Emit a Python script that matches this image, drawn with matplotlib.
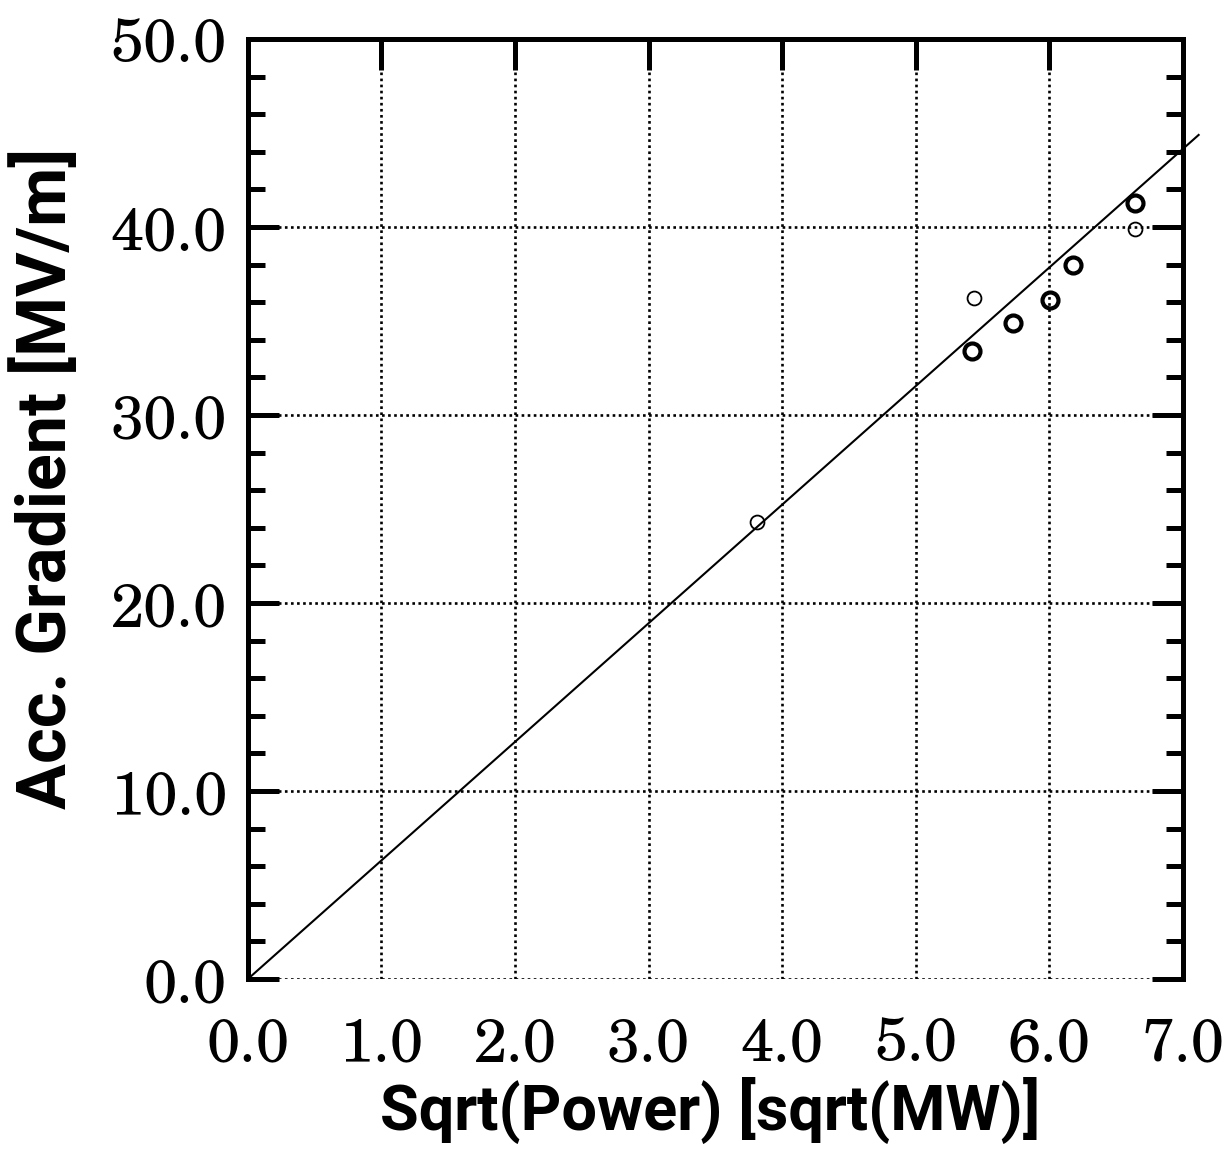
import matplotlib
matplotlib.use("Agg")
import matplotlib.pyplot as plt
from matplotlib import font_manager
from matplotlib.ticker import MultipleLocator, FormatStrFormatter

# measured points: thin open circles and bold open circles
thin_x = [3.81, 5.44, 6.64]
thin_y = [24.3, 36.2, 39.9]
bold_x = [5.42, 5.73, 6.01, 6.18, 6.64]
bold_y = [33.4, 34.9, 36.1, 38.0, 41.3]

# straight fit line end points
fit_x = [0.0, 7.12]
fit_y = [0.0, 44.9]

x_ticks = [0, 1, 2, 3, 4, 5, 6, 7]
y_ticks = [0, 10, 20, 30, 40, 50]

fig = plt.figure(figsize=(12.25, 11.49), dpi=100)
ax = fig.add_axes([0.2024, 0.148, 0.763, 0.818])

ax.plot(fit_x, fit_y, color="black", lw=1.5, clip_on=False, zorder=3)
ax.plot(thin_x, thin_y, "o", ms=10, mfc="none", mec="black", mew=1.3, zorder=4)
ax.plot(bold_x, bold_y, "o", ms=11.5, mfc="none", mec="black", mew=3.0, zorder=4)

ax.set_xlim(0, 7)
ax.set_ylim(0, 50)
ax.set_xticks(x_ticks)
ax.set_yticks(y_ticks)
ax.yaxis.set_minor_locator(MultipleLocator(2))
ax.xaxis.set_major_formatter(FormatStrFormatter("%.1f"))
ax.yaxis.set_major_formatter(FormatStrFormatter("%.1f"))

# dotted grid, bottom edge is only a dotted grid line
ax.grid(True, which="major", color="black", linestyle=(0, (1, 1.3)), lw=1.9)
ax.set_axisbelow(True)
for side in ["left", "right", "top"]:
    ax.spines[side].set_linewidth(3.6)
ax.spines["bottom"].set_visible(False)

ax.tick_params(axis="x", which="major", bottom=False, top=True, labelbottom=True,
               direction="in", length=22, width=3.6, pad=27)
ax.tick_params(axis="y", which="major", left=True, right=True,
               direction="in", length=22, width=3.6, pad=15)
ax.tick_params(axis="y", which="minor", left=True, right=True,
               direction="in", length=12, width=3.6)

names = {f.name for f in font_manager.fontManager.ttflist}

# Century Schoolbook look-alike for the numbers if one is installed
tick_family = "Liberation Serif"
for cand in ["TeX Gyre Schola", "C059", "Century Schoolbook L", "New Century Schoolbook"]:
    if cand in names:
        tick_family = cand
        break
for lab in ax.get_xticklabels() + ax.get_yticklabels():
    lab.set_fontfamily([tick_family, "DejaVu Serif"])
    lab.set_fontsize(43)

label_family = "Roboto" if "Roboto" in names else "DejaVu Sans"

xl = fig.text(710 / 1225, 1 - 1110 / 1149, "Sqrt(Power) [sqrt(MW)]", ha="center", va="center",
              fontweight="bold", family=label_family, fontsize=40)
yl = fig.text(46 / 1225, 1 - 478 / 1149, "Acc. Gradient [MV/m]", ha="center", va="center",
              rotation=90, fontweight="bold", family=label_family, fontsize=40)

# size the titles so they span about the same length as in the original
fig.canvas.draw()
r = fig.canvas.get_renderer()
xl.set_fontsize(40 * 660 / xl.get_window_extent(r).width)
yl.set_fontsize(40 * 660 / yl.get_window_extent(r).height)

fig.savefig("out.png", dpi=100)
